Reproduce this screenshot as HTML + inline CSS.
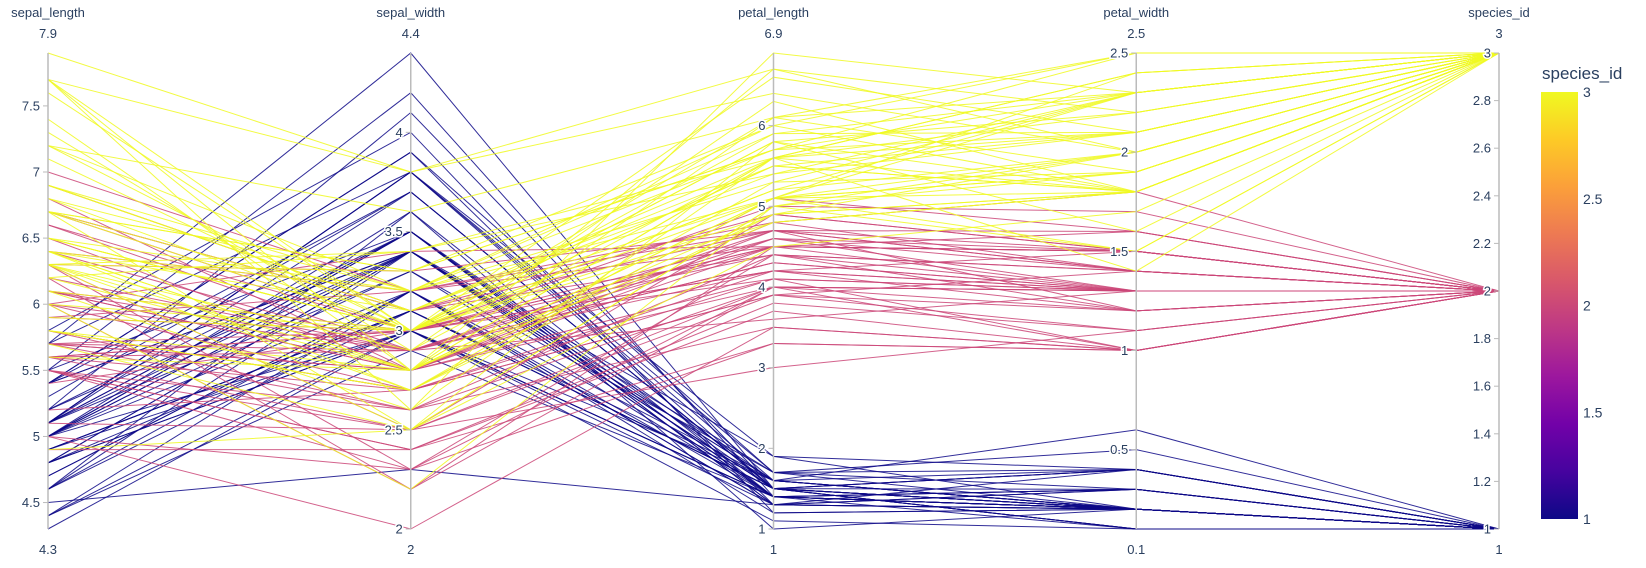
<!DOCTYPE html>
<html><head><meta charset="utf-8"><style>
html,body{margin:0;padding:0;background:#fff;}
svg{display:block;font-family:"Liberation Sans",sans-serif;}
</style></head><body>
<svg id="chart" width="1646" height="568" viewBox="0 0 1646 568">
<defs>
<linearGradient id="plasma" x1="0" y1="1" x2="0" y2="0">
<stop offset="0" stop-color="#0d0887"/><stop offset="0.111" stop-color="#46039f"/><stop offset="0.222" stop-color="#7201a8"/><stop offset="0.333" stop-color="#9c179e"/><stop offset="0.444" stop-color="#bd3786"/><stop offset="0.555" stop-color="#d8576b"/><stop offset="0.666" stop-color="#ed7953"/><stop offset="0.777" stop-color="#fb9f3a"/><stop offset="0.888" stop-color="#fdca26"/><stop offset="1" stop-color="#f0f921"/>
</linearGradient>
</defs>
<g id="lines"></g>
<g id="axes"></g>
<g id="cbar"></g>
</svg>
<script>
const dims = ["sepal_length","sepal_width","petal_length","petal_width","species_id"];
const sepalLength = [5.1,4.9,4.7,4.6,5.0,5.4,4.6,5.0,4.4,4.9,5.4,4.8,4.8,4.3,5.8,5.7,5.4,5.1,5.7,5.1,5.4,5.1,4.6,5.1,4.8,5.0,5.0,5.2,5.2,4.7,4.8,5.4,5.2,5.5,4.9,5.0,5.5,4.9,4.4,5.1,5.0,4.5,4.4,5.0,5.1,4.8,5.1,4.6,5.3,5.0,
7.0,6.4,6.9,5.5,6.5,5.7,6.3,4.9,6.6,5.2,5.0,5.9,6.0,6.1,5.6,6.7,5.6,5.8,6.2,5.6,5.9,6.1,6.3,6.1,6.4,6.6,6.8,6.7,6.0,5.7,5.5,5.5,5.8,6.0,5.4,6.0,6.7,6.3,5.6,5.5,5.5,6.1,5.8,5.0,5.6,5.7,5.7,6.2,5.1,5.7,
6.3,5.8,7.1,6.3,6.5,7.6,4.9,7.3,6.7,7.2,6.5,6.4,6.8,5.7,5.8,6.4,6.5,7.7,7.7,6.0,6.9,5.6,7.7,6.3,6.7,7.2,6.2,6.1,6.4,7.2,7.4,7.9,6.4,6.3,6.1,7.7,6.3,6.4,6.0,6.9,6.7,6.9,5.8,6.8,6.7,6.7,6.3,6.5,6.2,5.9];
const sepalWidth = [3.5,3.0,3.2,3.1,3.6,3.9,3.4,3.4,2.9,3.1,3.7,3.4,3.0,3.0,4.0,4.4,3.9,3.5,3.8,3.8,3.4,3.7,3.6,3.3,3.4,3.0,3.4,3.5,3.4,3.2,3.1,3.4,4.1,4.2,3.1,3.2,3.5,3.1,3.0,3.4,3.5,2.3,3.2,3.5,3.8,3.0,3.8,3.2,3.7,3.3,
3.2,3.2,3.1,2.3,2.8,2.8,3.3,2.4,2.9,2.7,2.0,3.0,2.2,2.9,2.9,3.1,3.0,2.7,2.2,2.5,3.2,2.8,2.5,2.8,2.9,3.0,2.8,3.0,2.9,2.6,2.4,2.4,2.7,2.7,3.0,3.4,3.1,2.3,3.0,2.5,2.6,3.0,2.6,2.3,2.7,3.0,2.9,2.9,2.5,2.8,
3.3,2.7,3.0,2.9,3.0,3.0,2.5,2.9,2.5,3.6,3.2,2.7,3.0,2.5,2.8,3.2,3.0,3.8,2.6,2.2,3.2,2.8,2.8,2.7,3.3,3.2,2.8,3.0,2.8,3.0,2.8,3.8,2.8,2.8,2.6,3.0,3.4,3.1,3.0,3.1,3.1,3.1,2.7,3.2,3.3,3.0,2.5,3.0,3.4,3.0];
const petalLength = [1.4,1.4,1.3,1.5,1.4,1.7,1.4,1.5,1.4,1.5,1.5,1.6,1.4,1.1,1.2,1.5,1.3,1.4,1.7,1.5,1.7,1.5,1.0,1.7,1.9,1.6,1.6,1.5,1.4,1.6,1.6,1.5,1.5,1.4,1.5,1.2,1.3,1.5,1.3,1.5,1.3,1.3,1.3,1.6,1.9,1.4,1.6,1.4,1.5,1.4,
4.7,4.5,4.9,4.0,4.6,4.5,4.7,3.3,4.6,3.9,3.5,4.2,4.0,4.7,3.6,4.4,4.5,4.1,4.5,3.9,4.8,4.0,4.9,4.7,4.3,4.4,4.8,5.0,4.5,3.5,3.8,3.7,3.9,5.1,4.5,4.5,4.7,4.4,4.1,4.0,4.4,4.6,4.0,3.3,4.2,4.2,4.2,4.3,3.0,4.1,
6.0,5.1,5.9,5.6,5.8,6.6,4.5,6.3,5.8,6.1,5.1,5.3,5.5,5.0,5.1,5.3,5.5,6.7,6.9,5.0,5.7,4.9,6.7,4.9,5.7,6.0,4.8,4.9,5.6,5.8,6.1,6.4,5.6,5.1,5.6,6.1,5.6,5.5,4.8,5.4,5.6,5.1,5.1,5.9,5.7,5.2,5.0,5.2,5.4,5.1];
const petalWidth = [0.2,0.2,0.2,0.2,0.2,0.4,0.3,0.2,0.2,0.1,0.2,0.2,0.1,0.1,0.2,0.4,0.4,0.3,0.3,0.3,0.2,0.4,0.2,0.5,0.2,0.2,0.4,0.2,0.2,0.2,0.2,0.4,0.1,0.2,0.1,0.2,0.2,0.1,0.2,0.2,0.3,0.3,0.2,0.6,0.4,0.3,0.2,0.2,0.2,0.2,
1.4,1.5,1.5,1.3,1.5,1.3,1.6,1.0,1.3,1.4,1.0,1.5,1.0,1.4,1.3,1.4,1.5,1.0,1.5,1.1,1.8,1.3,1.5,1.2,1.3,1.4,1.4,1.7,1.5,1.0,1.1,1.0,1.2,1.6,1.5,1.6,1.5,1.3,1.3,1.3,1.2,1.4,1.2,1.0,1.3,1.2,1.3,1.3,1.1,1.3,
2.5,1.9,2.1,1.8,2.2,2.1,1.7,1.8,1.8,2.5,2.0,1.9,2.1,2.0,2.4,2.3,1.8,2.2,2.3,1.5,2.3,2.0,2.0,1.8,2.1,1.8,1.8,1.8,2.1,1.6,1.9,2.0,2.2,1.5,1.4,2.3,2.4,1.8,1.8,2.1,2.4,2.3,1.9,2.3,2.5,2.3,1.9,2.0,2.3,1.8];
const speciesId = [].concat(Array(50).fill(1),Array(50).fill(2),Array(50).fill(3));
const series = [sepalLength, sepalWidth, petalLength, petalWidth, speciesId];
const ticks = [[4.5,5,5.5,6,6.5,7,7.5],[2,2.5,3,3.5,4],[1,2,3,4,5,6],[0.5,1,1.5,2,2.5],[1,1.2,1.4,1.6,1.8,2,2.2,2.4,2.6,2.8,3]];
const cbTicks = [1,1.5,2,2.5,3];

const NS="http://www.w3.org/2000/svg";
const X0=48, DX=362.75, TOP=53, BOT=529;
function ax(i){return X0+i*DX;}
const mins=series.map(s=>Math.min(...s)), maxs=series.map(s=>Math.max(...s));
function ay(i,v){return BOT-(v-mins[i])/(maxs[i]-mins[i])*(BOT-TOP);}
function fmt(v){return String(Math.round(v*100)/100);}
const stops=[[0,[13,8,135]],[0.111,[70,3,159]],[0.222,[114,1,168]],[0.333,[156,23,158]],[0.444,[189,55,134]],[0.555,[216,87,107]],[0.666,[237,121,83]],[0.777,[251,159,58]],[0.888,[253,202,38]],[1,[240,249,33]]];
function plasma(t){for(let k=1;k<stops.length;k++){if(t<=stops[k][0]){const a=stops[k-1],b=stops[k],f=(t-a[0])/(b[0]-a[0]);return "rgb("+a[1].map((c,j)=>Math.round(c+(b[1][j]-c)*f)).join(",")+")";}}return "rgb(240,249,33)";}
function mk(tag,attrs,parent){const e=document.createElementNS(NS,tag);for(const k in attrs)e.setAttribute(k,attrs[k]);parent.appendChild(e);return e;}

const gL=document.getElementById("lines");
for(let r=0;r<speciesId.length;r++){
  const pts=series.map((s,i)=>ax(i).toFixed(2)+","+ay(i,s[r]).toFixed(2)).join(" ");
  const pl=mk("polyline",{points:pts,fill:"none",stroke:plasma((speciesId[r]-1)/2),"stroke-width":1,"stroke-opacity":0.85},gL);
  
  
}
const gA=document.getElementById("axes");
dims.forEach((d,i)=>{
  const x=ax(i);
  const g=mk("g",{},gA);
  
  
  mk("line",{x1:x,y1:TOP,x2:x,y2:BOT,stroke:"#bbb","stroke-width":1.5},g);
  ticks[i].forEach(t=>{
    const y=ay(i,t);
    mk("line",{x1:x-5,y1:y,x2:x,y2:y,stroke:"#bbb","stroke-width":1},g);
    const tx=mk("text",{x:x-8,y:y+4.5,"text-anchor":"end","font-size":13,fill:"#2a3f5f",stroke:"#fff","stroke-width":3,"paint-order":"stroke"},g);
    tx.textContent=fmt(t);
    
    
  });
  const ti=mk("text",{x:x,y:17,"text-anchor":"middle","font-size":13,fill:"#2a3f5f"},g);
  ti.textContent=d;
  
  
  const mx=mk("text",{x:x,y:38,"text-anchor":"middle","font-size":13,fill:"#2a3f5f"},g);
  mx.textContent=fmt(maxs[i]);
  
  
  const mn=mk("text",{x:x,y:554,"text-anchor":"middle","font-size":13,fill:"#2a3f5f"},g);
  mn.textContent=fmt(mins[i]);
  
  
});
const gC=document.getElementById("cbar");
const CT=92, CB=519, CX=1541, CW=37;
const rc=mk("rect",{x:CX,y:CT,width:CW,height:CB-CT,fill:"url(#plasma)"},gC);


const ct=mk("text",{x:1542,y:79,"font-size":17,fill:"#2a3f5f"},gC);
ct.textContent="species_id";


cbTicks.forEach(t=>{
  const y=CB-(t-1)/2*(CB-CT);
  const tx=mk("text",{x:1583,y:y+5,"font-size":14,fill:"#2a3f5f"},gC);
  tx.textContent=fmt(t);
  
  
});
</script>
</body></html>
